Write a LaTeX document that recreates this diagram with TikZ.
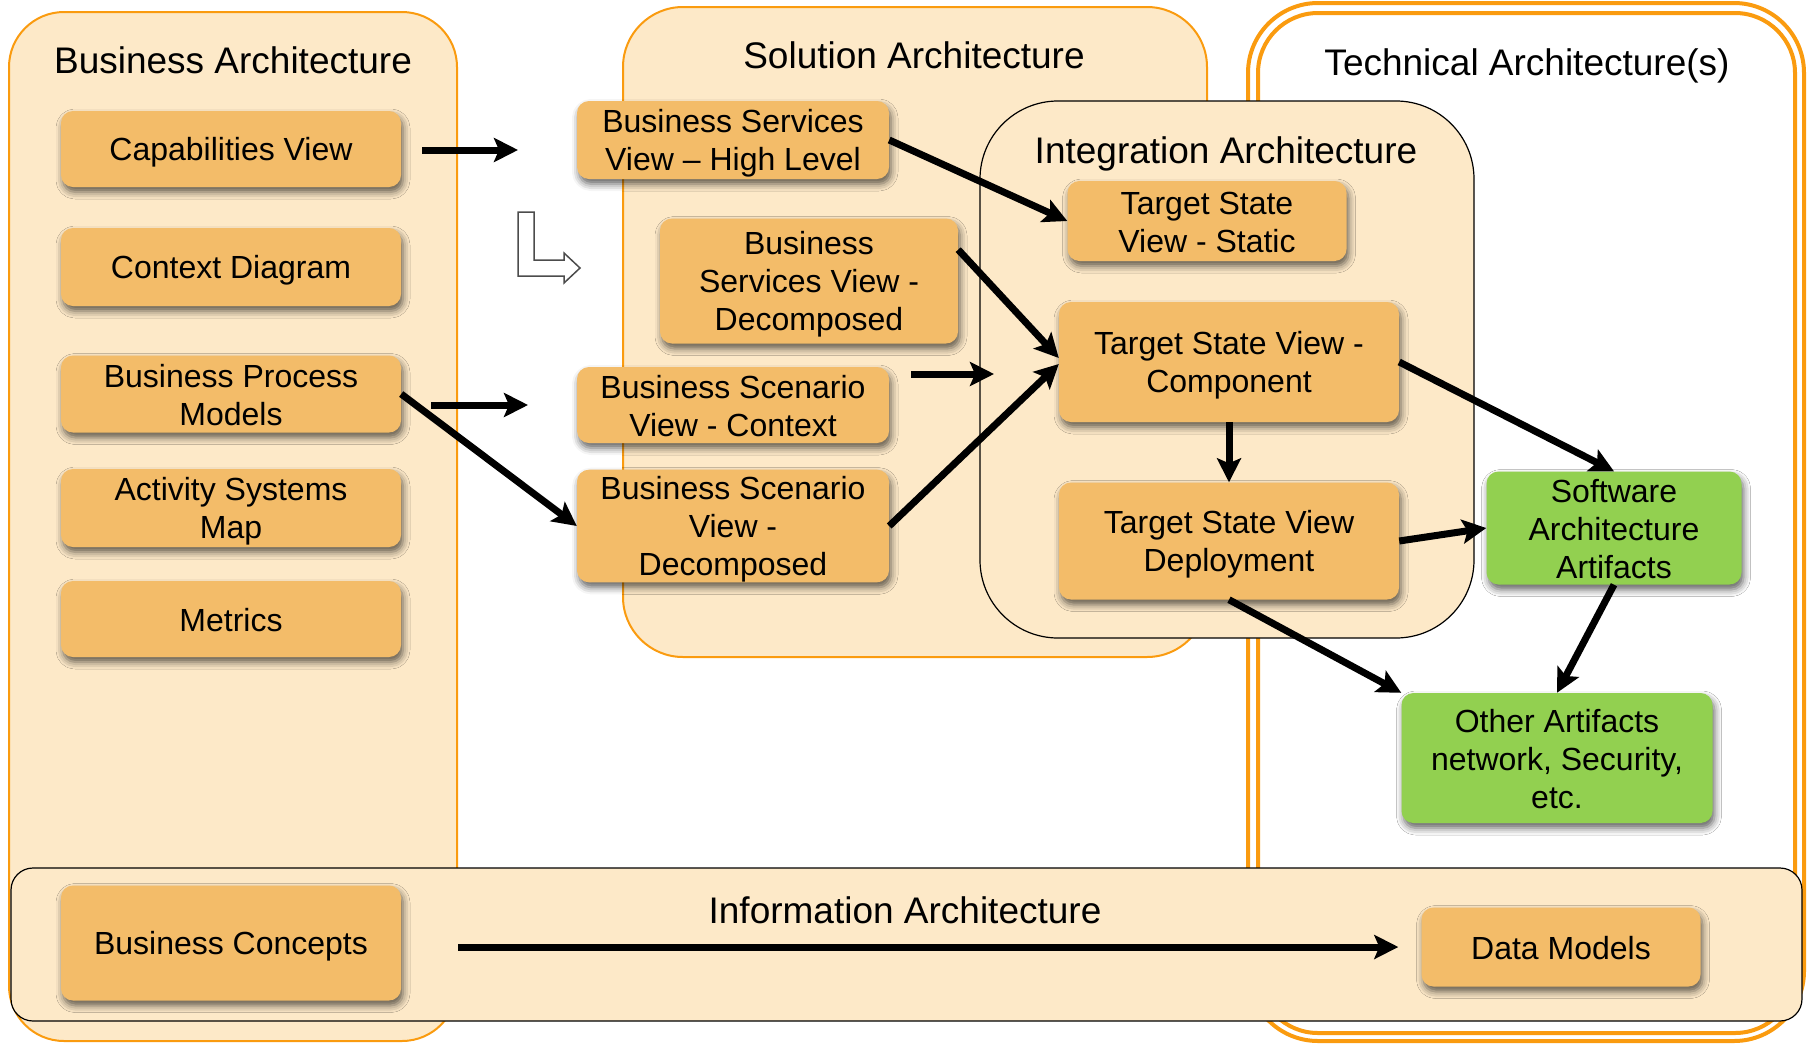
\documentclass[tikz,border=0pt]{standalone}
\usepackage{fontspec}
\setmainfont{Liberation Sans}
\usetikzlibrary{arrows.meta,shadows.blur,calc}

\definecolor{panelfill}{RGB}{253,233,200}
\definecolor{panelline}{RGB}{250,155,15}
\definecolor{boxfill}{RGB}{243,188,105}
\definecolor{greenfill}{RGB}{146,208,80}

% fixed line height/depth so every box line sits at the same offset
\newcommand\ls{\rule[-5pt]{0pt}{35pt}}

\begin{document}
\begin{tikzpicture}[x=1pt,y=-1pt,
  panel/.style={draw=panelline, line width=2pt, fill=panelfill},
  inner panel/.style={draw=black, line width=1.2pt, fill=panelfill},
  title/.style={font=\fontsize{37}{44}\selectfont, inner sep=0pt, text depth=0pt},
  item/.style={rounded corners=12pt, fill=boxfill, align=center, inner sep=0pt,
    font=\fontsize{32}{38}\selectfont,
    blur shadow={shadow xshift=2pt, shadow yshift=-5pt, shadow blur radius=7pt, shadow opacity=62}},
  gitem/.style={item, fill=greenfill},
  flow/.style={line width=7pt, -{Stealth[length=24pt,width=24pt,inset=5pt]}},
  hollow/.style={draw=black!70, line width=1.5pt, fill=white, line join=miter},
]
\useasboundingbox (0,0) rectangle (1808,1045);

% ---- containers ----
\draw[panel, rounded corners=55pt] (9,12) rectangle (457,1041);
\draw[panel, rounded corners=60pt] (623,7) rectangle (1207,657);
\draw[draw=panelline, line width=4pt, fill=white, rounded corners=70pt] (1248,3) rectangle (1804,1041);
\draw[draw=panelline, line width=4pt, rounded corners=60pt] (1258,13) rectangle (1795,1033);
\draw[inner panel, rounded corners=78pt] (980,101) rectangle (1474,638);
\draw[inner panel, rounded corners=22pt] (11,868) rectangle (1802,1021);

% ---- container titles ----
\node[title] (tba) at (233,60) {Business Architecture};
\node[title] (tsa) at (914,55) {Solution Architecture};
\node[title] (tta) at (1527,62) {Technical Architecture(s)};
\node[title] (tia) at (1226,150) {Integration Architecture};
\node[title] (tinf) at (905,910) {Information Architecture};

% ---- business architecture ----
\node[item, minimum width=340pt, minimum height=76pt] (cap) at (231,149) {\ls Capabilities View};
\node[item, minimum width=340pt, minimum height=78pt] (ctx) at (231,267) {\ls Context Diagram};
\node[item, minimum width=340pt, minimum height=77pt] (bpm) at (231,394) {\ls Business Process\\\ls Models};
\node[item, minimum width=340pt, minimum height=78pt] (asm) at (231,508) {\ls Activity Systems\\\ls Map};
\node[item, minimum width=340pt, minimum height=76pt] (met) at (231,619) {\ls Metrics};

% ---- solution architecture ----
\node[item, minimum width=312pt, minimum height=78pt] (bshl) at (733,140) {\ls Business Services\\\ls View – High Level};
\node[item, minimum width=298pt, minimum height=125pt] (bsd) at (809,281) {\ls Business\\\ls Services View -\\\ls Decomposed};
\node[item, minimum width=312pt, minimum height=76pt] (bscc) at (733,405) {\ls Business Scenario\\\ls View - Context};
\node[item, minimum width=312pt, minimum height=112pt] (bscd) at (733,526) {\ls Business Scenario\\\ls View -\\\ls Decomposed};

% ---- integration architecture ----
\node[item, minimum width=279pt, minimum height=80pt] (tss) at (1207,221) {\ls Target State\\\ls View - Static};
\node[item, minimum width=340pt, minimum height=120pt] (tsvc) at (1229,362) {\ls Target State View -\\\ls Component};
\node[item, minimum width=340pt, minimum height=117pt] (tsvd) at (1229,541) {\ls Target State View\\\ls Deployment};

% ---- technical architecture ----
\node[gitem, minimum width=255pt, minimum height=113pt] (saa) at (1614,528) {\ls Software\\\ls Architecture\\\ls Artifacts};
\node[gitem, minimum width=311pt, minimum height=130pt] (oth) at (1557,758) {\ls Other Artifacts\\\ls network, Security,\\\ls etc.};

% ---- information architecture ----
\node[item, minimum width=340pt, minimum height=115pt] (bc) at (231,943) {\ls Business Concepts};
\node[item, minimum width=279pt, minimum height=79pt] (dm) at (1561,947) {\ls Data Models};

% ---- free arrow ends ----
\coordinate (capend) at (518,150);
\coordinate (bpmend) at (528,405);
\coordinate (bsccend) at (994,374);

% ---- hollow bent arrow ----
\draw[hollow] (518,212) -- (534,212) -- (534,260) -- (564,260) -- (564,253)
  -- (580,268) -- (564,283) -- (564,276) -- (518,276) -- cycle;

% ---- connectors ----
\draw[flow, shorten <=21pt] (cap.east |- capend) -- (capend);
\draw[flow, shorten <=30pt] (bpm.east |- bpmend) -- (bpmend);
\draw[flow, shorten <=22pt] (bscc.east |- bsccend) -- (bsccend);
\draw[flow] (bpm.east) -- (bscd.west);
\draw[flow] (bshl.east) -- (tss.west);
\draw[flow] ($(bsd.north east)!0.25!(bsd.south east)$) -- ([yshift=4pt]tsvc.west);
\draw[flow] (bscd.east) -- ([yshift=-2pt]tsvc.west);
\draw[flow] (tsvc.south) -- (tsvd.north);
\draw[flow] (tsvc.east) -- (saa.north);
\draw[flow] (tsvd.east) -- (saa.west);
\draw[flow] (saa.south) -- (oth.north);
\draw[flow] (tsvd.south) -- (oth.north west);
\draw[flow, shorten <=57pt, shorten >=23pt] (bc.east |- dm.west) -- (dm.west);
\end{tikzpicture}
\end{document}
